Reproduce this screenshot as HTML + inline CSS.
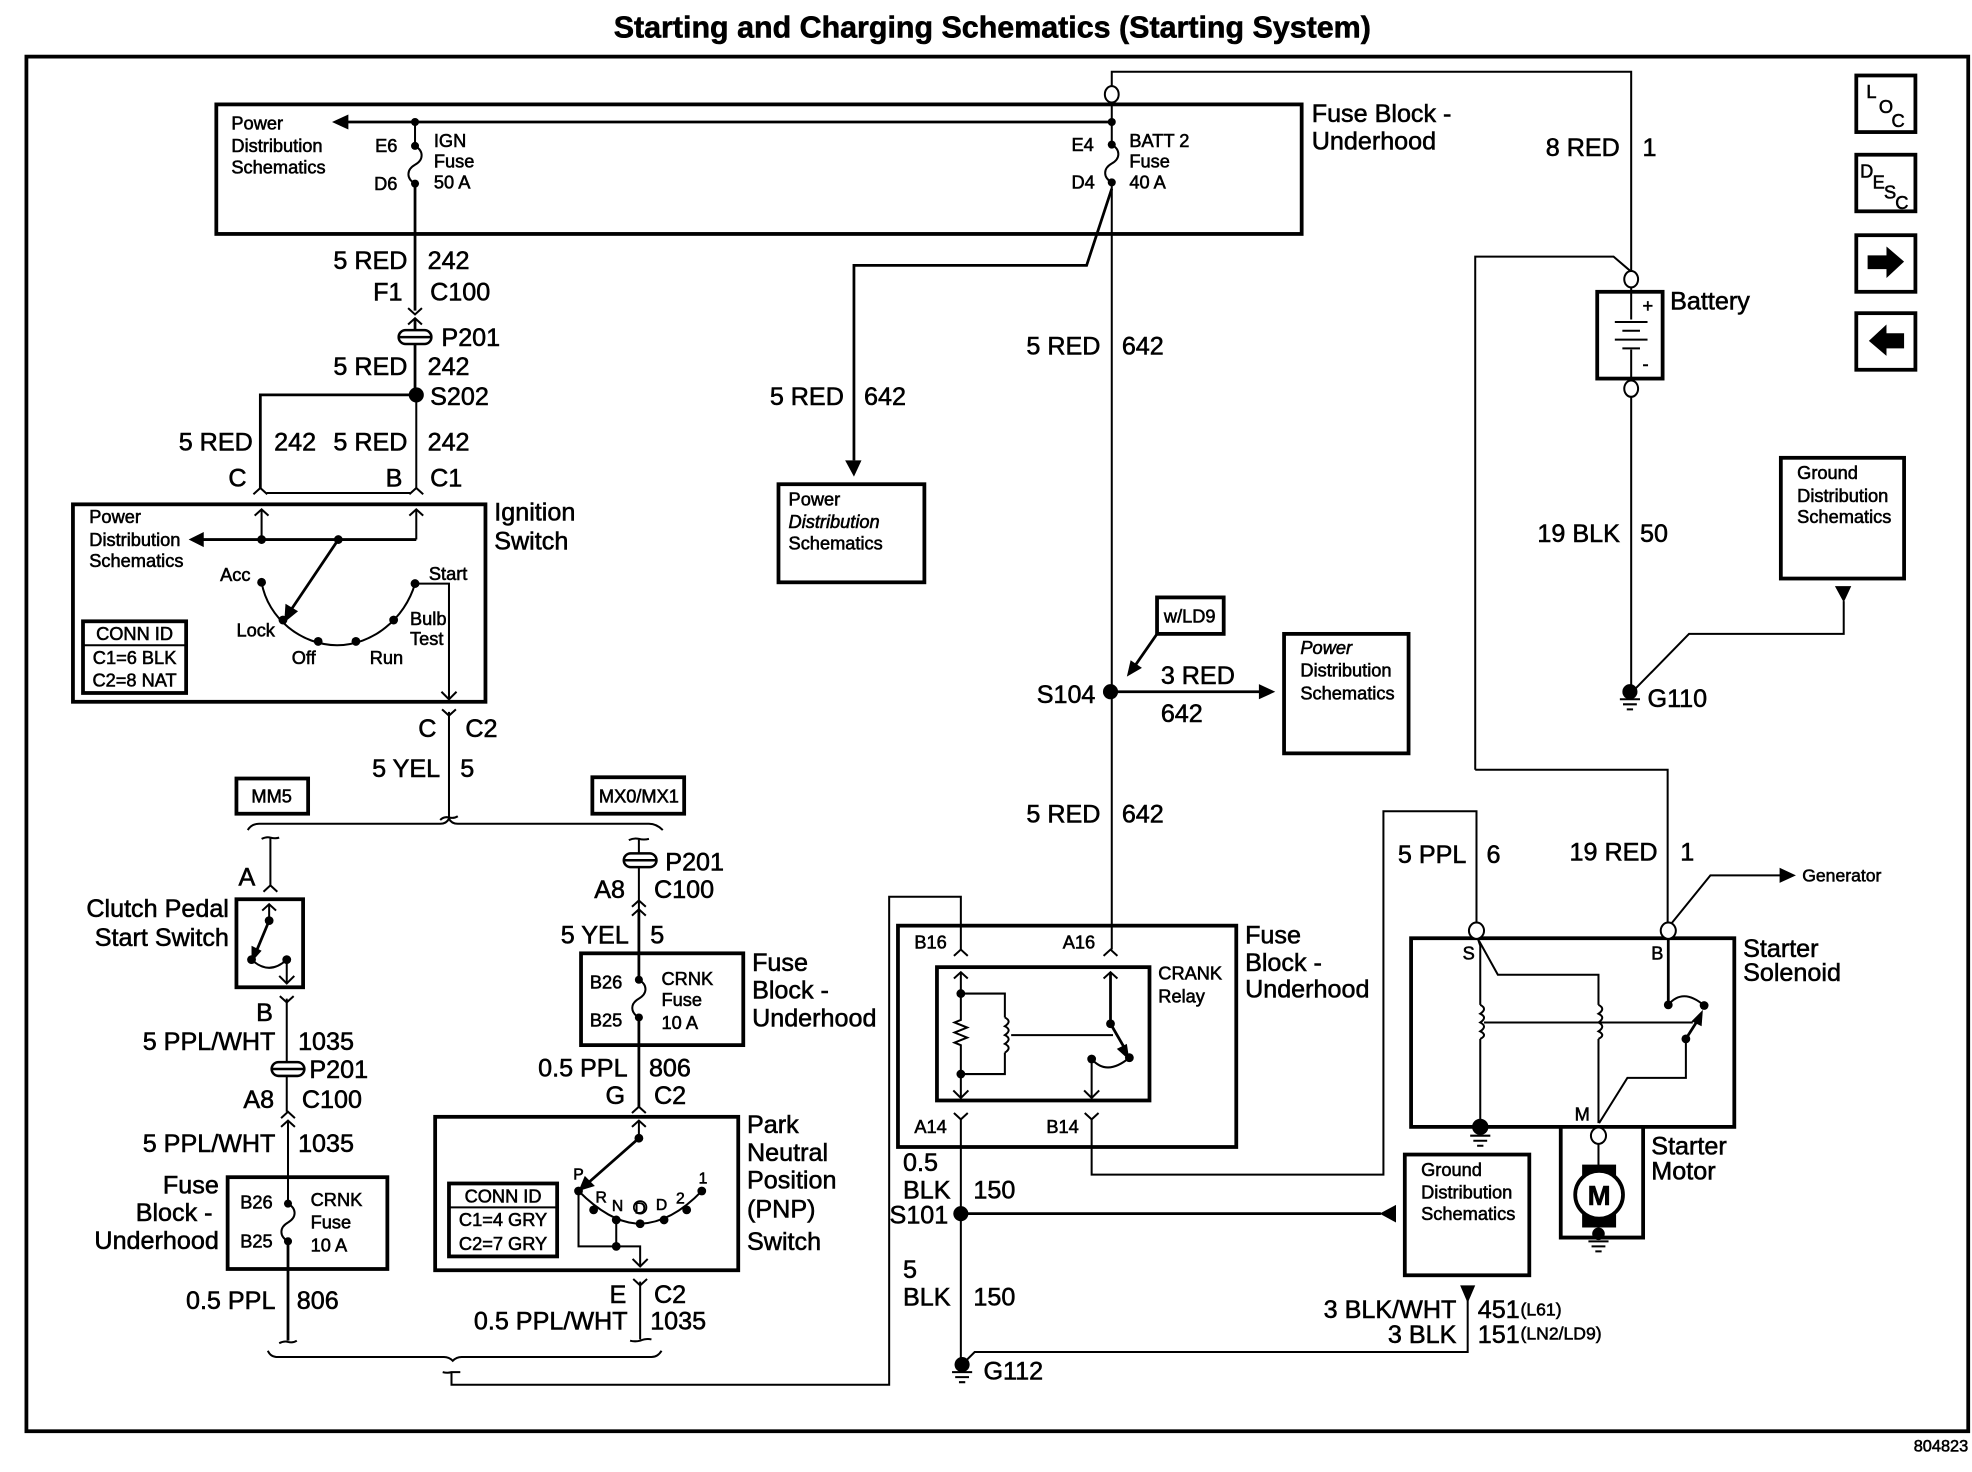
<!DOCTYPE html>
<html><head><meta charset="utf-8"><title>Starting and Charging Schematics</title>
<style>
html,body{margin:0;padding:0;background:#fff}
svg{display:block}
text{font-family:"Liberation Sans",sans-serif;fill:#000;stroke:#000;stroke-width:.45}
.l{font-size:20px}
.s{font-size:14.5px}
.t{font-size:12.5px}
.g{font-size:14px}
.r{text-anchor:end}
.c{text-anchor:middle}
.b{fill:none;stroke:#000;stroke-width:3}
.w{fill:none;stroke:#000;stroke-width:1.6}
.h{fill:none;stroke:#000;stroke-width:2.2}
.f{fill:#000;stroke:none}
.o{fill:#fff;stroke:#000;stroke-width:1.6}
</style></head><body>
<svg xmlns="http://www.w3.org/2000/svg" width="1972" height="1472" viewBox="0 0 1568 1170.4">
<defs>
<path id="up" d="M-5.5 5 L0 0 L5.5 5" fill="none" stroke="#000" stroke-width="1.6"/>
<path id="dn" d="M-5.5 -5 L0 0 L5.5 -5" fill="none" stroke="#000" stroke-width="1.6"/>
<g id="gnd"><path d="M-8 0H8M-5.5 4H5.5M-2.5 8H2.5" fill="none" stroke="#000" stroke-width="1.6"/></g>
<g id="p201"><rect x="-13" y="-5.5" width="26" height="11" rx="5.5" fill="#fff" stroke="#000" stroke-width="2"/><path d="M-13 0H13" stroke="#000" stroke-width="2"/></g>
<g id="fuse"><circle cx="0" cy="0" r="3.2" fill="#000"/><path d="M0 0c7 4 7 11 0 15c-7 4 -7 11 0 15" fill="none" stroke="#000" stroke-width="1.6"/><circle cx="0" cy="30" r="3.2" fill="#000"/></g>
</defs>
<rect width="1568" height="1170.4" fill="#fff"/>
<text x="789" y="30" class="c" font-weight="bold" style="font-size:24px" textLength="602" lengthAdjust="spacingAndGlyphs">Starting and Charging Schematics (Starting System)</text>
<rect x="21" y="45" width="1544" height="1093" class="b"/>
<text x="1565" y="1154" class="r" style="font-size:13px">804823</text>

<!-- Top fuse block -->
<rect x="172" y="83" width="863" height="103" class="b"/>
<path d="M884 97H275" class="h"/><path class="f" d="M264 97l13 -6v12z"/>
<circle cx="330" cy="97" r="3.2"/><circle cx="884" cy="97" r="3.2"/>
<path d="M330 97V116" class="w"/><use href="#fuse" x="330" y="116"/>
<path d="M330 146V247" class="h"/>
<use href="#dn" x="330" y="250"/><use href="#up" x="330" y="253"/>
<path d="M330 253V315" class="h"/><use href="#p201" x="330" y="268"/>
<text x="184" y="103" class="s">Power</text><text x="184" y="121" class="s">Distribution</text><text x="184" y="138" class="s">Schematics</text>
<text x="316" y="121" class="s r">E6</text><text x="316" y="151" class="s r">D6</text>
<text x="345" y="117" class="s">IGN</text><text x="345" y="133" class="s">Fuse</text><text x="345" y="150" class="s">50 A</text>
<text x="852" y="120" class="s">E4</text><text x="852" y="150" class="s">D4</text>
<text x="898" y="117" class="s">BATT 2</text><text x="898" y="133" class="s">Fuse</text><text x="898" y="150" class="s">40 A</text>
<text x="1043" y="97" class="l">Fuse Block -</text><text x="1043" y="119" class="l">Underhood</text>
<text x="324" y="214" class="l r">5 RED</text><text x="340" y="214" class="l">242</text>
<text x="320" y="239" class="l r">F1</text><text x="342" y="239" class="l">C100</text>
<text x="351" y="275" class="l">P201</text>
<text x="324" y="298" class="l r">5 RED</text><text x="340" y="298" class="l">242</text>
<circle cx="331" cy="314" r="6"/><text x="342" y="322" class="l">S202</text>
<path d="M331 314H207V388" class="h"/><path d="M331 314V388" class="w"/>
<text x="201" y="358" class="l r">5 RED</text><text x="218" y="358" class="l">242</text>
<text x="324" y="358" class="l r">5 RED</text><text x="340" y="358" class="l">242</text>
<text x="196" y="387" class="l r">C</text><text x="320" y="387" class="l r">B</text><text x="342" y="387" class="l">C1</text>
<path d="M212 392H326" class="w"/><use href="#up" x="207" y="388"/><use href="#up" x="331" y="388"/>

<!-- Ignition switch -->
<rect x="58" y="401" width="328" height="157" class="b"/>
<text x="393" y="414" class="l">Ignition</text><text x="393" y="437" class="l">Switch</text>
<text x="71" y="416" class="s">Power</text><text x="71" y="434" class="s">Distribution</text><text x="71" y="451" class="s">Schematics</text>
<use href="#up" x="208" y="405"/><use href="#up" x="331" y="405"/>
<path d="M208 405V429M331 405V429" class="w"/>
<path d="M331 429H160" class="h"/><path class="f" d="M150 429l12 -6v12z"/>
<circle cx="208" cy="429" r="3.5"/><circle cx="269" cy="429" r="3.5"/>
<path d="M269 429L232 484" class="h"/><path class="f" d="M226 495l1 -15 10 6z"/>
<path d="M208 463C213 492 240 513 268 513C296 513 322 492 330 464" class="w"/>
<circle cx="208" cy="463" r="3.5"/><circle cx="225" cy="493" r="3.5"/><circle cx="253" cy="510" r="3.5"/><circle cx="283" cy="510" r="3.5"/><circle cx="313" cy="493" r="3.5"/><circle cx="330" cy="464" r="3.5"/>
<path d="M330 464H357V555" class="w"/><path d="M351 550L357 556L363 550" class="w"/>
<text x="175" y="462" class="s">Acc</text><text x="341" y="461" class="s">Start</text>
<text x="188" y="506" class="s">Lock</text><text x="326" y="497" class="s">Bulb</text><text x="326" y="513" class="s">Test</text>
<text x="232" y="528" class="s">Off</text><text x="294" y="528" class="s">Run</text>
<rect x="66" y="494" width="82" height="57" class="b"/><path d="M66 513H148" class="w"/>
<text x="107" y="509" class="s c">CONN ID</text><text x="107" y="528" class="s c">C1=6 BLK</text><text x="107" y="546" class="s c">C2=8 NAT</text>

<!-- Yellow wire -->
<use href="#dn" x="357" y="569"/><path d="M357 566V650" class="w"/>
<text x="347" y="586" class="l r">C</text><text x="370" y="586" class="l">C2</text>
<text x="350" y="618" class="l r">5 YEL</text><text x="366" y="618" class="l">5</text>
<path d="M350 652q3 -3 7 -2q4 1 7 -1" class="w"/>
<rect x="188" y="619" width="57" height="28" class="b"/><text x="216" y="638" class="s c">MM5</text>
<rect x="471" y="618" width="73" height="29" class="b"/><text x="508" y="638" class="s c">MX0/MX1</text>
<path d="M197 660Q200 655 206 655H350Q355 655 357 651Q359 655 364 655H516Q522 655 527 660" class="w"/>

<!-- Clutch column -->
<path d="M208 667q4 -2 7 -1q4 1 7 0M215 666V704" class="w"/><use href="#up" x="215" y="704"/>
<text x="203" y="704" class="l r">A</text>
<rect x="188" y="715" width="53" height="70" class="b"/>
<text x="182" y="729" class="l r">Clutch Pedal</text><text x="182" y="752" class="l r">Start Switch</text>
<use href="#up" x="214" y="719"/><path d="M214 719V732" class="w"/><circle cx="214" cy="732" r="3.5"/>
<path d="M214 732L204 756" class="h"/><path class="f" d="M200 765l0 -13 8 4z"/>
<circle cx="200" cy="763" r="3.5"/><circle cx="228" cy="763" r="3.5"/>
<path d="M200 763Q214 776 228 763V782" class="w"/><path d="M222 776L228 782L234 776" class="w"/>
<use href="#dn" x="228" y="797"/><path d="M228 794V884" class="w"/>
<text x="217" y="812" class="l r">B</text>
<text x="219" y="835" class="l r">5 PPL/WHT</text><text x="237" y="835" class="l">1035</text>
<use href="#p201" x="229" y="850"/><text x="246" y="857" class="l">P201</text>
<text x="218" y="881" class="l r">A8</text><text x="240" y="881" class="l">C100</text>
<use href="#up" x="229" y="884"/><use href="#up" x="229" y="891"/><path d="M229 891V956" class="w"/>
<text x="219" y="916" class="l r">5 PPL/WHT</text><text x="237" y="916" class="l">1035</text>
<rect x="181" y="936" width="127" height="73" class="b"/>
<text x="174" y="949" class="l r">Fuse</text><text x="169" y="971" class="l r">Block -</text><text x="174" y="993" class="l r">Underhood</text>
<text x="191" y="961" class="s">B26</text><text x="191" y="992" class="s">B25</text>
<text x="247" y="959" class="s">CRNK</text><text x="247" y="977" class="s">Fuse</text><text x="247" y="995" class="s">10 A</text>
<use href="#fuse" x="229" y="957"/><path d="M229 987V1066" class="h"/>
<text x="219" y="1041" class="l r">0.5 PPL</text><text x="236" y="1041" class="l">806</text>
<path d="M222 1068q4 -2 7 -1q4 1 7 -1" class="w"/>

<!-- MX column -->
<path d="M500 668q4 -2 8 -1q4 1 8 0M508 667V750" class="w"/><use href="#p201" x="509" y="684"/>
<text x="529" y="692" class="l">P201</text>
<text x="497" y="714" class="l r">A8</text><text x="520" y="714" class="l">C100</text>
<use href="#up" x="508" y="716"/><use href="#up" x="508" y="723"/>
<text x="500" y="750" class="l r">5 YEL</text><text x="517" y="750" class="l">5</text>
<path d="M508 723V778" class="h"/>
<rect x="462" y="758" width="129" height="73" class="b"/>
<text x="598" y="772" class="l">Fuse</text><text x="598" y="794" class="l">Block -</text><text x="598" y="816" class="l">Underhood</text>
<text x="469" y="786" class="s">B26</text><text x="469" y="816" class="s">B25</text>
<text x="526" y="783" class="s">CRNK</text><text x="526" y="800" class="s">Fuse</text><text x="526" y="818" class="s">10 A</text>
<use href="#fuse" x="508" y="779"/><path d="M508 809V880" class="h"/>
<text x="499" y="856" class="l r">0.5 PPL</text><text x="516" y="856" class="l">806</text>
<text x="497" y="878" class="l r">G</text><text x="520" y="878" class="l">C2</text>
<use href="#up" x="508" y="880"/>

<!-- PNP -->
<rect x="346" y="888" width="241" height="122" class="b"/>
<text x="594" y="901" class="l">Park</text><text x="594" y="923" class="l">Neutral</text><text x="594" y="945" class="l">Position</text><text x="594" y="968" class="l">(PNP)</text><text x="594" y="994" class="l">Switch</text>
<use href="#up" x="508" y="891"/><path d="M508 891V905" class="w"/><circle cx="508" cy="905" r="3.5"/>
<path d="M508 905L466 942" class="h"/><path class="f" d="M460 947l5 -12 8 8z"/>
<path d="M460 947Q486 973 509 973Q534 972 558 947" class="w"/>
<circle cx="460" cy="947" r="3.5"/><circle cx="472" cy="962" r="3.5"/><circle cx="490" cy="970" r="3.5"/><circle cx="509" cy="973" r="3.5"/><circle cx="528" cy="970" r="3.5"/><circle cx="546" cy="962" r="3.5"/><circle cx="558" cy="947" r="3.5"/>
<path d="M460 947V991H509V1007M490 970V991" class="w"/><circle cx="490" cy="991" r="3.5"/>
<path d="M503 1001L509 1007L515 1001" class="w"/>
<text x="460" y="938" class="t c">P</text><text x="478" y="956" class="t c">R</text><text x="491" y="963" class="t c">N</text><text x="509" y="965" class="t c">D</text><circle cx="509" cy="960" r="5" fill="none" stroke="#000" stroke-width="1.4"/><text x="526" y="962" class="t c">D</text><text x="541" y="957" class="t c">2</text><text x="559" y="941" class="t c">1</text>
<rect x="357" y="941" width="86" height="58" class="b"/><path d="M357 960H443" class="w"/>
<text x="400" y="956" class="s c">CONN ID</text><text x="400" y="975" class="s c">C1=4 GRY</text><text x="400" y="994" class="s c">C2=7 GRY</text>
<use href="#dn" x="509" y="1022"/><path d="M509 1019V1065" class="w"/>
<text x="498" y="1036" class="l r">E</text><text x="520" y="1036" class="l">C2</text>
<text x="499" y="1057" class="l r">0.5 PPL/WHT</text><text x="517" y="1057" class="l">1035</text>
<path d="M501 1066q4 1 8 0q5 -2 9 -1" class="w"/>
<path d="M213 1074Q215 1079 221 1079H353Q357 1079 360 1082Q363 1079 367 1079H518Q523 1079 526 1074" class="w"/>
<path d="M352 1091q4 1 7 0h7M359 1091V1101H707V713H764V755" class="w"/>

<!-- Main 642 wire -->
<path d="M884 68V57H1297V216" class="w"/>
<ellipse cx="884" cy="75" rx="5.5" ry="6.5" class="o"/>
<path d="M884 81V115" class="w"/><use href="#fuse" x="884" y="115"/>
<path d="M884 146V755" class="w"/>
<path d="M884 150L864 211H679V366" class="h"/><path class="f" d="M672 366h13l-6 13z"/>
<text x="875" y="282" class="l r">5 RED</text><text x="892" y="282" class="l">642</text>
<text x="671" y="322" class="l r">5 RED</text><text x="687" y="322" class="l">642</text>
<rect x="619" y="385" width="116" height="78" class="b"/>
<text x="627" y="402" class="s">Power</text><text x="627" y="420" class="s" font-style="italic">Distribution</text><text x="627" y="437" class="s">Schematics</text>
<rect x="920" y="475" width="53" height="29" class="b"/><text x="946" y="495" class="s c">w/LD9</text>
<path d="M920 504L902 530" class="h"/><path class="f" d="M896 538l3 -13 9 6z"/>
<circle cx="883" cy="550" r="6"/><text x="871" y="559" class="l r">S104</text>
<path d="M883 550H1003" class="h"/><path class="f" d="M1014 550l-13 -6v12z"/>
<text x="923" y="544" class="l">3 RED</text><text x="923" y="574" class="l">642</text>
<rect x="1021" y="504" width="99" height="95" class="b"/>
<text x="1034" y="520" class="s" font-style="italic">Power</text><text x="1034" y="538" class="s">Distribution</text><text x="1034" y="556" class="s">Schematics</text>
<text x="875" y="654" class="l r">5 RED</text><text x="892" y="654" class="l">642</text>

<!-- Icons -->
<rect x="1476" y="60" width="47" height="45" class="b"/><text x="1484" y="78" class="s">L</text><text x="1494" y="90" class="s">O</text><text x="1504" y="101" class="s">C</text>
<rect x="1476" y="123" width="47" height="45" class="b"/><text x="1479" y="141" class="s">D</text><text x="1489" y="150" class="s">E</text><text x="1498" y="158" class="s">S</text><text x="1507" y="166" class="s">C</text>
<rect x="1476" y="187" width="47" height="45" class="b"/><path class="f" d="M1485 203H1500V196L1514 208L1500 221V214H1485z"/>
<rect x="1476" y="249" width="47" height="45" class="b"/><path class="f" d="M1514 265H1500V258L1486 271L1500 283V277H1514z"/>

<!-- Battery -->
<text x="1288" y="124" class="l r">8 RED</text><text x="1306" y="124" class="l">1</text>
<path d="M1173 612V204H1283L1297 216" class="w"/>
<rect x="1270" y="232" width="52" height="69" class="b"/>
<path d="M1297 228V254M1297 278V304M1284 256H1310M1290 263H1304M1284 270H1310M1290 277H1304" class="w"/>
<text x="1306" y="248" class="s">+</text><text x="1306" y="294" class="s">-</text>
<ellipse cx="1297" cy="222" rx="5.5" ry="6.5" class="o"/><ellipse cx="1297" cy="309" rx="5.5" ry="6.5" class="o"/>
<text x="1328" y="246" class="l">Battery</text>
<path d="M1297 316V550" class="w"/>
<text x="1288" y="431" class="l r">19 BLK</text><text x="1304" y="431" class="l">50</text>
<rect x="1416" y="364" width="98" height="96" class="b"/>
<text x="1429" y="381" class="s">Ground</text><text x="1429" y="399" class="s">Distribution</text><text x="1429" y="416" class="s">Schematics</text>
<path class="f" d="M1459 466h13l-6 13z"/><path d="M1466 478V504H1343L1298 550" class="w"/>
<circle cx="1296" cy="550" r="6"/><use href="#gnd" x="1296" y="556"/>
<text x="1310" y="562" class="l">G110</text>

<!-- Relay block -->
<rect x="714" y="736" width="269" height="176" class="b"/>
<rect x="745" y="769" width="169" height="106" class="b"/>
<text x="727" y="754" class="s">B16</text><text x="845" y="754" class="s">A16</text>
<text x="727" y="901" class="s">A14</text><text x="832" y="901" class="s">B14</text>
<text x="921" y="779" class="s">CRANK</text><text x="921" y="797" class="s">Relay</text>
<text x="990" y="750" class="l">Fuse</text><text x="990" y="772" class="l">Block -</text><text x="990" y="793" class="l">Underhood</text>
<use href="#up" x="764" y="755"/><use href="#up" x="883" y="755"/>
<use href="#up" x="764" y="773"/><use href="#up" x="883" y="773"/>
<path d="M764 773V811l-5 2l10 4l-10 4l10 4l-10 4l5 2V873" class="w"/>
<path d="M758 867L764 873L770 867" class="w"/>
<path d="M764 790H799V809M799 837V854H764" class="w"/>
<path d="M799 809q6 3 0 7q6 3 0 7q6 3 0 7q6 3 0 7" class="w"/>
<circle cx="764" cy="790" r="3.5"/><circle cx="764" cy="854" r="3.5"/>
<path d="M804 823H885" class="w"/>
<path d="M883 773V814" class="h"/><circle cx="883" cy="814" r="3.5"/>
<path d="M883 814L894 833" class="h"/><path class="f" d="M898 843l-10 -9 8 -4z"/>
<circle cx="898" cy="841" r="3.5"/><circle cx="868" cy="842" r="3.5"/>
<path d="M868 842Q880 856 898 841M868 842V873" class="w"/><path d="M862 867L868 873L874 867" class="w"/>
<use href="#dn" x="764" y="890"/><use href="#dn" x="868" y="890"/>
<path d="M764 890V1085" class="w"/>
<path d="M868 890V934H1100V645H1174V735" class="w"/>
<text x="718" y="931" class="l">0.5</text><text x="718" y="953" class="l">BLK</text><text x="774" y="953" class="l">150</text>
<text x="754" y="973" class="l r">S101</text>
<circle cx="764" cy="965" r="6"/>
<path d="M764 965H1098" class="h"/><path class="f" d="M1097 965l13 -7v14z"/>
<text x="718" y="1016" class="l">5</text><text x="718" y="1038" class="l">BLK</text><text x="774" y="1038" class="l">150</text>
<circle cx="765" cy="1085" r="6"/><use href="#gnd" x="765" y="1091"/>
<text x="782" y="1097" class="l">G112</text>
<path d="M765 1085L775 1075H1167V1034" class="w"/><path class="f" d="M1161 1022h12l-6 14z"/>
<rect x="1117" y="918" width="99" height="96" class="b"/>
<text x="1130" y="935" class="s">Ground</text><text x="1130" y="953" class="s">Distribution</text><text x="1130" y="970" class="s">Schematics</text>
<text x="1158" y="1048" class="l r">3 BLK/WHT</text><text x="1158" y="1068" class="l r">3 BLK</text>
<text x="1175" y="1048" class="l">451</text><text x="1175" y="1068" class="l">151</text>
<text x="1209" y="1046" class="g">(L61)</text><text x="1209" y="1065" class="g">(LN2/LD9)</text>

<!-- Starter -->
<path d="M1173 612H1326V735" class="w"/>
<text x="1166" y="686" class="l r">5 PPL</text><text x="1182" y="686" class="l">6</text>
<text x="1318" y="684" class="l r">19 RED</text><text x="1336" y="684" class="l">1</text>
<path d="M1326 738L1360 696H1417" class="w"/><path class="f" d="M1428 696l-13 -6v12z"/>
<text x="1433" y="701" class="g">Generator</text>
<rect x="1122" y="746" width="257" height="150" class="b"/>
<text x="1386" y="761" class="l">Starter</text><text x="1386" y="780" class="l">Solenoid</text>
<text x="1163" y="763" class="s">S</text><text x="1313" y="763" class="s">B</text><text x="1252" y="891" class="s">M</text>
<path d="M1175 746L1177 752V799M1177 826V895" class="w"/>
<path d="M1177 799q6 3 0 7q6 3 0 7q6 3 0 7q6 3 0 6" class="w"/>
<path d="M1176 748L1191 775H1271V799M1271 826V893" class="w"/>
<path d="M1271 799q6 3 0 7q6 3 0 7q6 3 0 7q6 3 0 6" class="w"/>
<path d="M1180 813H1346" class="w"/>
<path d="M1326.5 747V799" class="h"/><circle cx="1326.5" cy="799" r="3.5"/><circle cx="1355" cy="799.5" r="3.5"/>
<path d="M1326.5 799Q1338 785 1355 799.5" class="w"/>
<path d="M1340.5 826L1350 811" class="h"/><path class="f" d="M1354 803l-1 13 -8 -4z"/>
<circle cx="1340.5" cy="826" r="3.5"/><path d="M1340.5 826V857H1294L1271.5 893" class="w"/>
<ellipse cx="1174" cy="740" rx="6" ry="6.5" class="o"/><ellipse cx="1326.5" cy="740" rx="6" ry="6.5" class="o"/>
<circle cx="1177" cy="896" r="6.5"/><use href="#gnd" x="1177" y="903"/>
<path d="M1241 896V984H1306.5V896" class="b"/>
<ellipse cx="1271" cy="903" rx="6" ry="6.5" class="o"/>
<path d="M1271 910V928" class="w"/>
<rect x="1258" y="926" width="27" height="50" class="f"/>
<circle cx="1271.5" cy="950" r="19" fill="#fff" stroke="#000" stroke-width="3"/>
<text x="1271.5" y="958" class="c" font-weight="bold" style="font-size:22px">M</text>
<circle cx="1271" cy="981" r="5"/><use href="#gnd" x="1271" y="987"/>
<text x="1313" y="918" class="l">Starter</text><text x="1313" y="938" class="l">Motor</text>
</svg>
</body></html>
